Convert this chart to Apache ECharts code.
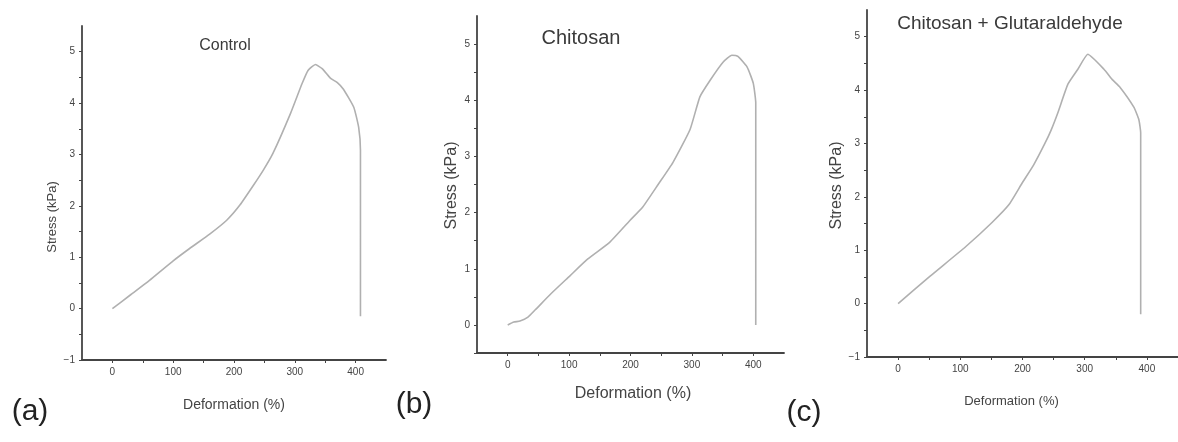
<!DOCTYPE html>
<html>
<head>
<meta charset="utf-8">
<script src="https://cdn.jsdelivr.net/npm/echarts@6/dist/echarts.min.js"></script>
<style>
  html, body { margin: 0; padding: 0; background: #fff; }
  #chart { width: 1178px; height: 442px; }
</style>
</head>
<body>
<div id="chart"></div>
<script>
// stress-strain curves, [deformation %, stress kPa]
var controlCurve = [
  [0, 0], [30, 0.27], [61, 0.55], [100, 0.93], [127, 1.17], [160, 1.45],
  [188, 1.72], [210, 2.02], [232, 2.4], [248, 2.69], [264, 3.02], [293, 3.8],
  [312, 4.38], [322, 4.64], [334, 4.75], [345, 4.67], [359, 4.48], [370, 4.4],
  [380, 4.27], [397, 3.92], [405, 3.53], [408, 3.08], [408, -0.15]
];
var chitosanCurve = [
  [0, 0], [10, 0.05], [20, 0.07], [33, 0.14], [45, 0.27], [70, 0.55],
  [101, 0.87], [130, 1.17], [166, 1.47], [199, 1.86], [220, 2.1], [245, 2.5],
  [269, 2.89], [297, 3.48], [313, 4.06], [330, 4.36], [351, 4.68], [365, 4.8],
  [375, 4.78], [390, 4.59], [400, 4.3], [404, 3.95], [404, 0]
];
var glutCurve = [
  [0, 0], [51, 0.51], [109, 1.07], [151, 1.52], [178, 1.85], [199, 2.25],
  [218, 2.6], [236, 3.0], [246, 3.25], [257, 3.58], [273, 4.11], [289, 4.39],
  [305, 4.67], [331, 4.39], [344, 4.2], [357, 4.05], [379, 3.68], [387, 3.45],
  [390, 3.2], [390, -0.2]
];
var panelTitles = ['Control', 'Chitosan', 'Chitosan + Glutaraldehyde'];
var panelLetters = ['(a)', '(b)', '(c)'];
var yMins = [-1, -0.5, -1];
var xName = 'Deformation (%)';
var yName = 'Stress (kPa)';

var axisColor = '#444';
var lineColor = '#b0b0b0';
var narrow = '"Liberation Sans Narrow", "Liberation Sans", Arial, sans-serif';

var grids = [
  { left: 82, top: 26, width: 304, height: 334 },
  { left: 477, top: 16, width: 307, height: 337 },
  { left: 867, top: 10, width: 315, height: 347 }
];
var xNameStyle = [
  { gap: 38, size: 14, pad: [0, 0, 0, 0] },
  { gap: 33, size: 16, pad: [0, 0, 0, 5] },
  { gap: 38, size: 13, pad: [0, 22, 0, 0] }
];
var yNameStyle = [
  { gap: 23, size: 13, pad: [0, 48, 0, 0] },
  { gap: 17, size: 16, pad: [0, 2, 0, 0] },
  { gap: 20, size: 16, pad: [0, 4, 0, 0] }
];

function tickLabel(v) {
  if (Math.abs(v - Math.round(v)) > 1e-6) return '';
  return v < 0 ? '\u2212' + (-v) : String(v);
}

var xAxes = [], yAxes = [], series = [];
[controlCurve, chitosanCurve, glutCurve].forEach(function(curve, i) {
  xAxes.push({
    type: 'value', gridIndex: i, min: -50, max: 450, interval: 50,
    name: xName, nameLocation: 'middle', nameGap: xNameStyle[i].gap,
    nameTextStyle: { color: '#444', fontSize: xNameStyle[i].size, fontFamily: narrow, padding: xNameStyle[i].pad },
    axisLine: { onZero: false, lineStyle: { color: axisColor, width: 1.8 } },
    axisTick: { length: 3, lineStyle: { color: axisColor } },
    axisLabel: {
      color: '#444', fontSize: 10, margin: 7, showMinLabel: false, showMaxLabel: false,
      formatter: function(v) { return v % 100 === 0 ? String(v) : ''; }
    },
    splitLine: { show: false }
  });
  yAxes.push({
    type: 'value', gridIndex: i, min: yMins[i], max: 5.5, interval: 0.5,
    name: yName, nameLocation: 'middle', nameGap: yNameStyle[i].gap,
    nameTextStyle: { color: '#444', fontSize: yNameStyle[i].size, padding: yNameStyle[i].pad },
    axisLine: { show: true, onZero: false, lineStyle: { color: axisColor, width: 1.8 } },
    axisTick: { show: true, length: 3, lineStyle: { color: axisColor } },
    axisLabel: { color: '#444', fontSize: 10, margin: 7, showMaxLabel: false, formatter: tickLabel },
    splitLine: { show: false }
  });
  series.push({
    type: 'line', xAxisIndex: i, yAxisIndex: i, data: curve,
    showSymbol: false, symbol: 'none', smooth: 0.15,
    lineStyle: { color: lineColor, width: 1.6 }
  });
});

var titleSpots = [
  { left: 225, top: 38, size: 16 },
  { left: 581, top: 28, size: 20 },
  { left: 1010, top: 14, size: 19 }
];
var letterSpots = [[30, 412], [414, 405], [804, 413]];

var chart = echarts.init(document.getElementById('chart'), null, { renderer: 'canvas' });
chart.setOption({
  animation: false,
  backgroundColor: '#fff',
  title: panelTitles.map(function(t, i) {
    return {
      text: t, left: titleSpots[i].left, top: titleSpots[i].top, textAlign: 'center', padding: 0,
      textStyle: { color: '#3a3a3a', fontSize: titleSpots[i].size, fontWeight: 'normal', fontFamily: narrow }
    };
  }),
  grid: grids,
  xAxis: xAxes,
  yAxis: yAxes,
  series: series,
  graphic: panelLetters.map(function(t, i) {
    return {
      type: 'text', x: letterSpots[i][0], y: letterSpots[i][1],
      style: { text: t, fill: '#222', fontSize: 30, fontFamily: 'Liberation Sans, Arial, sans-serif', align: 'center', verticalAlign: 'middle' }
    };
  })
});
window.addEventListener('resize', function() { chart.resize(); });
</script>
</body>
</html>
